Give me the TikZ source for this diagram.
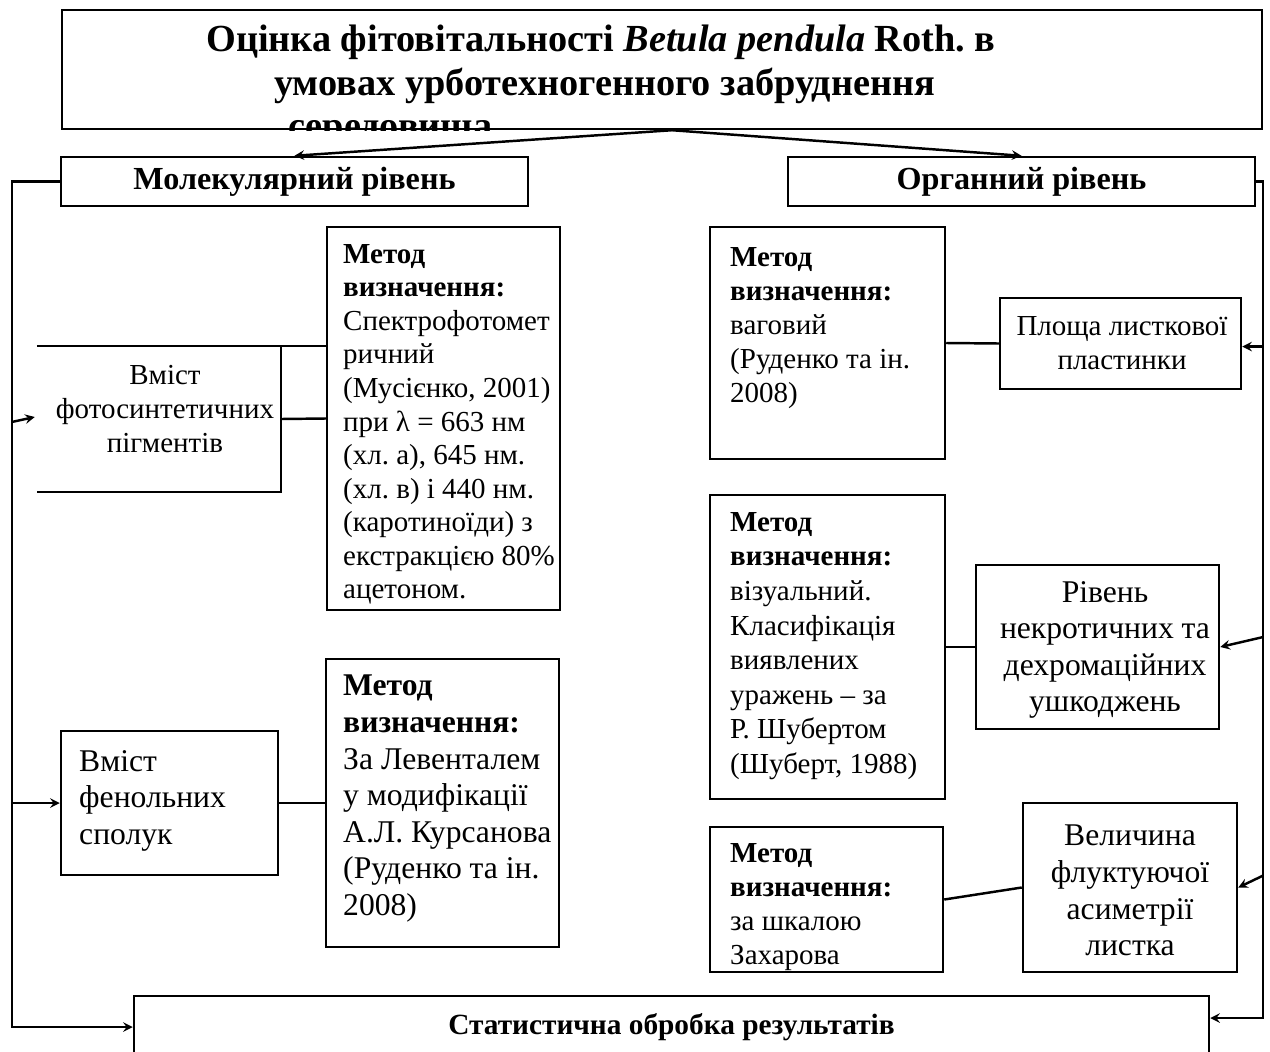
\documentclass[tikz,border=0pt]{standalone}
\usepackage{fontspec}
\setmainfont{Liberation Serif}
\usetikzlibrary{
  arrows,
  positioning,
  calc,
  fit
}
\def\mysmall{\fontsize{16.5}{19.4}\selectfont}
\def\mytight{\fontsize{16.5}{19.1}\selectfont}
\def\mybig{\fontsize{18}{20.8}\selectfont}
\def\myhead{\fontsize{18.3}{21}\selectfont\bfseries}
\def\mytitle{\fontsize{21.8}{24}\selectfont\bfseries}
\tikzset{
  >=stealth,
  my box/.style={
    draw,
    rectangle,
    inner sep=0pt
  },
  my text/.style={
    inner sep=0pt,
    align=left,
    font=\mysmall,
    execute at begin node=\strut,
    execute at end node=\strut
  },
  my big text/.style={
    my text,
    font=\mybig
  },
  my head/.style={
    inner sep=0pt,
    font=\myhead
  },
  my title/.style={
    anchor=base west,
    inner sep=0pt,
    font=\mytitle
  }
}

\begin{document}
\frenchspacing
\begin{tikzpicture}[x=0.02cm,y=-0.02cm,line width=1.4pt]
\useasboundingbox (0,0) rectangle (1270,1051);
% boxes
\node[my box, fit={(62,10) (1262,129)}] (title) {};
\node[my box, fit={(61,157) (528,206)}] (mol) {};
\node[my box, fit={(788,157) (1255,206)}] (org) {};
\node[inner sep=0pt, fit={(38,347) (280,491)}] (fot) {};
\node[my box, fit={(327,227) (560,610)}] (meth1) {};
\node[my box, fit={(61,731) (278,875)}] (fen) {};
\node[my box, fit={(326,659) (559,947)}] (meth5) {};
\node[my box, fit={(710,227) (945,459)}] (meth2) {};
\node[my box, fit={(1000,298) (1241,389)}] (pl) {};
\node[my box, fit={(710,495) (945,799)}] (meth3) {};
\node[my box, fit={(976,565) (1219,729)}] (riv) {};
\node[my box, fit={(710,827) (943,972)}] (meth4) {};
\node[my box, fit={(1023,803) (1237,972)}] (vel) {};
\node[my box, fit={(134,996) (1209,1058)}] (stat) {};

% title, cut by its box
\begin{scope}
  \clip (title.north west) rectangle (title.south east);
  \node[my title] (tl1) at (205,52) {Оцінка фітовітальності \textit{Betula pendula} Roth. в};
  \node[my title] (tl2) at (273,95) {умовах урботехногенного забруднення};
  \node[my title] (tl3) at (287,138) {середовища};
\end{scope}

% texts
\node[my head] (moltext) at (mol.center) {Молекулярний рівень};
\node[my head] (orgtext) at (org.center) {Органний рівень};
\node[my head, font=\fontsize{16.7}{19}\selectfont\bfseries] (stattext) at (stat.center)
  {Статистична обробка результатів};
\node[my text, align=center, anchor=north] (fottext) at (165,364)
  {Вміст\\фотосинтетичних\\пігментів};
\node[my text, font=\mytight, anchor=north west] (meth1text) at (342,243)
  {\textbf{Метод}\\\textbf{визначення:}\\Спектрофотомет\\ричний\\(Мусієнко, 2001)\\при λ = 663 нм\\(хл. а), 645 нм.\\(хл. в) і 440 нм.\\(каротиноїди) з\\екстракцією 80\%\\ацетоном.};
\node[my big text, anchor=north west] (fentext) at (78,749)
  {Вміст\\фенольних\\сполук};
\node[my big text, anchor=north west] (meth5text) at (342,674)
  {\textbf{Метод}\\\textbf{визначення:}\\За Левенталем\\у модифікації\\А.Л. Курсанова\\(Руденко та ін.\\2008)};
\node[my text, anchor=north west] (meth2text) at (729,246)
  {\textbf{Метод}\\\textbf{визначення:}\\ваговий\\(Руденко та ін.\\2008)};
\node[my text, align=center, anchor=north] (pltext) at (1122,315)
  {Площа листкової\\пластинки};
\node[my text, font=\fontsize{16.5}{19.7}\selectfont, anchor=north west] (meth3text) at (729,511)
  {\textbf{Метод}\\\textbf{визначення:}\\візуальний.\\Класифікація\\виявлених\\уражень – за\\Р. Шубертом\\(Шуберт, 1988)};
\node[my big text, align=center, anchor=north] (rivtext) at (1105,580)
  {Рівень\\некротичних та\\дехромаційних\\ушкоджень};
\node[my text, anchor=north west] (meth4text) at (729,842)
  {\textbf{Метод}\\\textbf{визначення:}\\за шкалою\\Захарова};
\node[my big text, align=center, anchor=north] (veltext) at (1130,824)
  {Величина\\флуктуючої\\асиметрії\\листка};

% connectors
\draw[->] ($(title.south)+(10,0)$) -- (mol.north);
\draw[->] ($(title.south)+(10,0)$) -- (org.north);
\coordinate (lrail) at ($(mol.west)+(-48,0)$);
\coordinate (rrail) at ($(org.east)+(7,0)$);
\draw[->] (mol.west) -- (lrail) |- (stat.west);
\draw[->] (org.east) -- (rrail) |- ($(stat.east)+(0,-9)$);
\draw[->] ($(lrail |- fot.west)+(0,3)$) -- ($(fot.west)+(-2,-2)$);
\draw[->] (lrail |- fen.west) -- (fen.west);
\draw[->] ($(rrail |- pl.east)+(0,3)$) -- ($(pl.east)+(0,3)$);
\draw[->] ($(rrail |- riv.east)+(0,-10)$) -- (riv.east);
\draw[->] ($(rrail |- vel.east)+(0,-12)$) -- (vel.east);
\draw (fot.north west) -- (meth1.west |- fot.north);
\draw (fot.north east) -- (fot.south east) -- (fot.south west);
\draw (fot.east) -- (meth1.west);
\draw (fen.east) -- (meth5.west);
\draw (meth2.east) -- (pl.west);
\draw (meth3.east) -- (riv.west);
\draw (meth4.east) -- (vel.west);
\end{tikzpicture}
\end{document}
